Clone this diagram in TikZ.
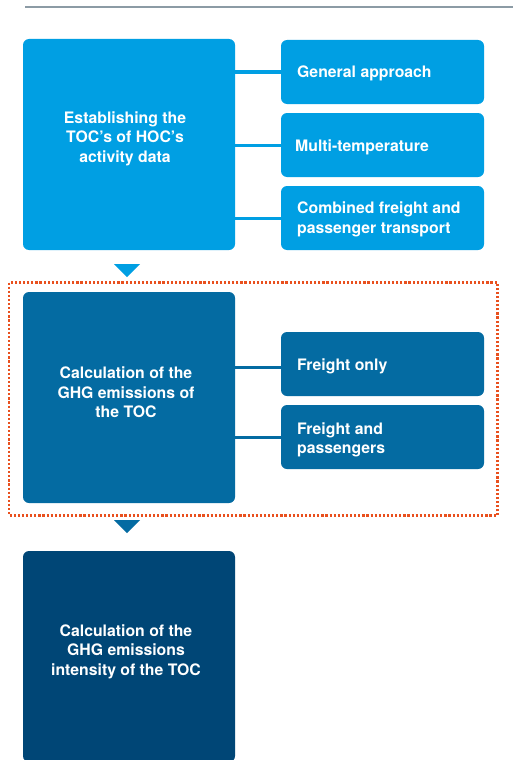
\documentclass[tikz,border=0pt]{standalone}
\usepackage{fontspec}
\setmainfont{TeX Gyre Heros}
\definecolor{cA}{HTML}{009FE3}
\definecolor{cB}{HTML}{046BA2}
\definecolor{cC}{HTML}{004676}
\definecolor{rule}{HTML}{8C9BA5}
\definecolor{dotc}{HTML}{E9501E}
\tikzset{
  bigbox/.style={rectangle, rounded corners=6, inner sep=0, minimum width=212, minimum height=211},
  smallbox/.style={rectangle, rounded corners=6, inner sep=0, minimum width=203, minimum height=64},
  bigtext/.style={text=white, font=\fontsize{15.8}{19.4}\selectfont\bfseries, align=center, inner sep=0},
  smalltext/.style={text=white, font=\fontsize{15.8}{19.6}\selectfont\bfseries, align=left, anchor=west, inner sep=0},
  link/.style={line width=3},
}
\begin{document}
\begin{tikzpicture}[x=1pt,y=-1pt]
\clip (0,0) rectangle (513,760);
\fill[white] (0,0) rectangle (513,760);
% top rule
\draw[rule, line width=1.5] (25,7) coordinate (r1) -- (513,7) coordinate (r2);
% stage 1
\node[bigbox, fill=cA] (A) at (129,144.5) {};
\node[bigtext] (At) at (125,138.5) {Establishing the\\TOC’s of HOC’s\\activity data};
\node[smallbox, fill=cA] (a1) at (382.5,72) {};
\node[smallbox, fill=cA] (a2) at (382.5,145) {};
\node[smallbox, fill=cA] (a3) at (382.5,218) {};
\node[smalltext] (a1t) at (297,73.5) {General approach};
\node[smalltext] (a2t) at (295,147) {Multi-temperature};
\node[smalltext] (a3t) at (297,219.5) {Combined freight and\\passenger transport};
\draw[link, cA] (a1.west -| A.east) -- (a1.west);
\draw[link, cA] (a2.west -| A.east) -- (a2.west);
\draw[link, cA] (a3.west -| A.east) -- (a3.west);
% arrow 1
\coordinate (t1) at (127,277);
\fill[cA] (t1) -- ++(-13,-13) -- ++(26,0) -- cycle;
% dotted frame
\draw[dotc, line width=2.2, dash pattern=on 2.2 off 1.9] (9,282.5) rectangle (497.5,515.5);
% stage 2
\node[bigbox, fill=cB] (B) at (129,397.5) {};
\node[bigtext] (Bt) at (126,392.5) {Calculation of the\\GHG emissions of\\the TOC};
\node[smallbox, fill=cB] (b1) at (382.5,364) {};
\node[smallbox, fill=cB] (b2) at (382.5,437) {};
\node[smalltext] (b1t) at (297,366) {Freight only};
\node[smalltext] (b2t) at (297,440) {Freight and\\passengers};
\draw[link, cB] ([yshift=-3]b1.west -| B.east) -- ([yshift=-3]b1.west);
\draw[link, cB] (b2.west -| B.east) -- (b2.west);
% arrow 2
\coordinate (t2) at (127,533);
\fill[cB] (t2) -- ++(-13,-13) -- ++(26,0) -- cycle;
% stage 3
\node[bigbox, fill=cC] (C) at (129,656.5) {};
\node[bigtext] (Ct) at (126,651.5) {Calculation of the\\GHG emissions\\intensity of the TOC};
\end{tikzpicture}
\end{document}
